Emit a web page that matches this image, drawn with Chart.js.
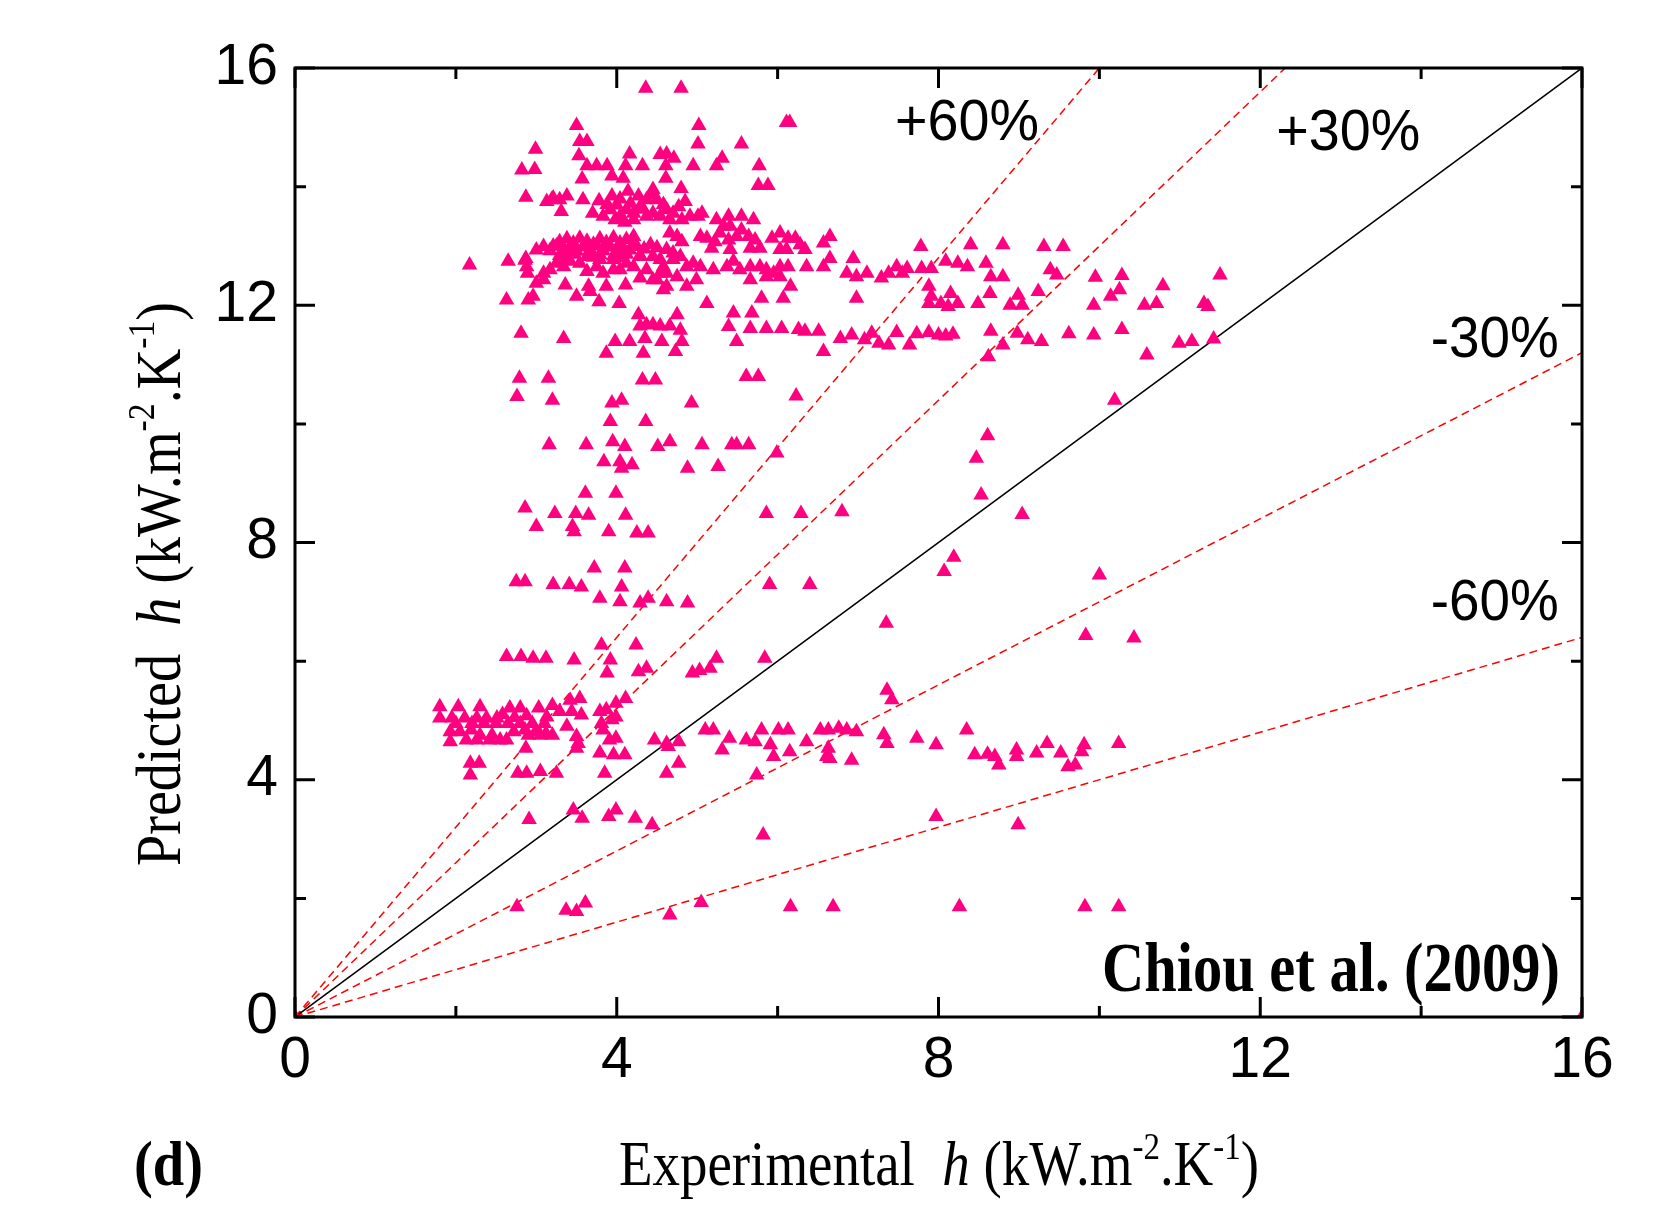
<!DOCTYPE html>
<html>
<head>
<meta charset="utf-8">
<script src="https://cdn.jsdelivr.net/npm/chart.js@4.4.1/dist/chart.umd.min.js"></script>
<style>
html,body{margin:0;padding:0;background:#ffffff;}
#wrap{width:1676px;height:1209px;position:relative;background:#fff;}
</style>
</head>
<body>
<div id="wrap"><canvas id="c" width="1676" height="1209"></canvas></div>
<script>
// ---------------- data (Experimental h, Predicted h) ----------------
const topSparse = [[4.36,15.66],[4.80,15.66],[3.50,15.03],[5.02,15.03],[6.11,15.08],[6.15,15.08],[2.99,14.63],[3.54,14.76],[3.63,14.76],[5.01,14.72],[5.55,14.72],[3.53,14.52],[4.16,14.55],[4.54,14.54],[4.62,14.55],[4.71,14.48],[2.82,14.28],[2.98,14.29],[3.63,14.35],[3.75,14.35],[3.88,14.35],[4.11,14.35],[4.32,14.35],[4.61,14.35],[4.95,14.35],[5.24,14.35],[5.31,14.48],[5.77,14.35],[3.94,14.18],[3.57,14.13],[4.08,14.14],[4.61,14.14],[5.76,14.02],[5.88,14.02],[2.87,13.82]];
const band135 = [[3.13,13.75],[3.21,13.81],[3.29,13.78],[3.38,13.84],[3.31,13.58],[3.58,13.78],[3.78,13.76],[3.94,13.84],[4.04,13.79],[4.14,13.92],[4.27,13.84],[4.37,13.78],[4.45,13.95],[4.50,13.78],[4.80,13.97],[3.83,13.50],[3.92,13.61],[4.00,13.69],[4.04,13.50],[4.12,13.61],[4.21,13.55],[4.29,13.66],[4.37,13.50],[4.45,13.55],[4.54,13.50],[4.21,13.44],[4.62,13.61],[4.70,13.55],[4.77,13.66],[4.85,13.75],[4.81,13.44],[4.91,13.50],[5.06,13.55],[5.01,13.50],[5.24,13.44],[5.39,13.50],[5.55,13.50],[5.70,13.44],[5.33,13.33],[5.41,13.33],[4.66,13.44],[3.98,13.44],[4.10,13.40],[3.19,13.78],[4.17,13.72],[4.33,13.62],[4.58,13.70],[3.88,13.70],[4.42,13.86],[3.70,13.55]];
const band130 = [[3.29,13.07],[3.38,13.12],[3.46,13.05],[3.54,13.13],[3.63,13.08],[3.71,13.03],[3.79,13.12],[3.87,13.06],[3.96,13.14],[4.04,13.05],[4.12,13.11],[4.21,13.04],[3.00,12.93],[3.09,12.99],[3.17,12.92],[3.25,13.00],[3.34,12.94],[3.42,12.99],[3.50,12.91],[3.58,12.98],[3.67,12.93],[3.75,13.00],[3.83,12.92],[3.92,12.98],[4.00,12.90],[4.08,12.97],[4.16,12.93],[4.25,12.99],[4.34,12.95],[4.42,13.02],[4.50,12.97],[4.21,13.16],[4.75,13.16],[4.81,13.07],[3.29,12.84],[3.46,12.86],[3.63,12.82],[3.79,12.85],[3.96,12.83],[4.12,12.86],[4.29,12.84],[3.38,12.80],[3.71,12.81],[4.05,12.80],[5.04,13.16],[5.12,13.13],[5.22,13.07],[5.28,13.22],[5.39,13.10],[5.49,13.16],[5.55,13.27],[5.64,13.16],[5.72,13.10],[5.78,12.96],[5.93,13.13],[6.03,13.22],[6.13,13.13],[6.22,13.13],[6.28,13.02],[6.34,12.94],[5.18,12.96],[5.41,12.94],[5.66,12.96],[6.03,12.94],[6.11,12.94],[4.66,13.22],[4.62,12.94],[4.70,12.88],[6.65,13.16],[6.57,13.05],[3.21,13.00]];
const band127 = [[2.65,12.74],[2.87,12.79],[2.88,12.65],[2.89,12.54],[3.09,12.54],[3.17,12.60],[3.25,12.71],[3.34,12.65],[3.42,12.74],[3.63,12.57],[3.75,12.65],[3.83,12.54],[3.96,12.60],[4.04,12.60],[4.12,12.71],[4.21,12.65],[4.45,12.82],[4.58,12.65],[4.62,12.54],[4.70,12.77],[4.79,12.82],[4.87,12.65],[4.95,12.71],[5.04,12.65],[5.20,12.60],[5.37,12.65],[5.45,12.74],[5.53,12.60],[5.66,12.65],[5.78,12.65],[5.86,12.60],[5.95,12.54],[6.03,12.65],[6.13,12.65],[6.36,12.65],[4.37,12.60],[4.54,12.77],[4.29,12.82],[3.96,12.77],[3.79,12.77],[3.54,12.71],[2.17,12.68],[2.86,12.76]];
const band122 = [[2.63,12.09],[2.90,12.09],[2.96,12.15],[3.00,12.37],[3.09,12.43],[3.36,12.34],[3.50,12.15],[3.65,12.32],[3.67,12.23],[3.78,12.06],[3.87,12.32],[4.03,12.03],[4.11,12.34],[4.29,12.46],[4.45,12.43],[4.58,12.26],[4.62,12.32],[4.75,12.48],[4.87,12.32],[4.99,12.43],[5.12,12.03],[5.66,12.43],[5.86,12.48],[6.03,12.48],[6.16,12.32],[5.80,12.12],[6.07,12.12],[6.98,12.12],[6.86,12.54],[6.94,12.79],[6.98,12.48],[7.11,12.54],[7.29,12.46],[7.38,12.54],[7.48,12.65],[6.65,12.79],[6.57,12.65],[4.50,12.43],[4.54,12.54]];
const upperRight = [[7.78,12.99],[8.40,13.02],[8.80,13.02],[9.31,12.99],[9.55,12.99],[7.61,12.62],[7.79,12.62],[7.91,12.62],[8.09,12.74],[8.24,12.71],[8.36,12.65],[8.59,12.71],[7.55,12.54],[7.88,12.32],[7.91,12.15],[8.03,12.03],[8.15,12.20],[8.24,12.03],[8.12,11.98],[7.88,12.03],[8.49,12.03],[8.64,12.20],[8.65,12.48],[8.80,12.48],[9.39,12.60],[9.47,12.51],[8.89,12.00],[9.04,12.00],[8.99,12.17],[9.24,12.23],[9.95,12.47],[10.28,12.50],[9.93,12.00],[10.14,12.15],[10.25,12.26],[10.56,12.00],[10.71,12.03],[10.79,12.33],[11.30,12.03],[11.35,11.98],[11.50,12.51]];
const band115 = [[7.08,11.42],[7.26,11.36],[7.48,11.54],[7.64,11.33],[7.73,11.52],[7.88,11.54],[8.00,11.50],[8.09,11.48],[8.18,11.51],[8.65,11.56],[8.80,11.33],[8.98,11.53],[9.11,11.42],[9.28,11.39],[9.62,11.52],[9.93,11.50],[10.28,11.59],[10.59,11.16],[10.99,11.36],[11.15,11.39],[11.42,11.43],[8.62,11.13],[6.78,11.44],[6.92,11.50],[7.17,11.53],[7.38,11.33],[4.27,11.84],[4.75,11.84],[4.29,11.65],[4.37,11.67],[4.45,11.67],[4.54,11.65],[4.66,11.65],[4.79,11.58],[5.45,11.87],[5.68,11.87],[5.39,11.64],[5.66,11.61],[5.86,11.61],[6.05,11.61],[6.26,11.59],[6.34,11.56],[6.51,11.56],[5.49,11.39],[3.98,11.39],[4.16,11.39],[4.35,11.44],[4.56,11.39],[4.81,11.39],[3.87,11.19],[4.33,11.19],[4.73,11.22],[6.57,11.22],[2.81,11.53],[3.34,11.44]];
const band105 = [[2.79,10.77],[3.15,10.77],[4.32,10.74],[4.48,10.74],[5.61,10.80],[5.76,10.80],[2.76,10.46],[3.20,10.40],[3.94,10.35],[4.06,10.40],[4.93,10.35],[6.23,10.47],[3.92,10.04],[4.36,10.04],[10.19,10.40]];
const band90 = [[3.16,9.65],[3.62,9.65],[3.95,9.70],[4.10,9.62],[4.51,9.62],[4.66,9.70],[5.06,9.65],[5.43,9.65],[5.49,9.65],[5.64,9.65],[5.99,9.51],[3.84,9.36],[4.04,9.36],[4.19,9.31],[4.06,9.25],[4.88,9.25],[5.26,9.28],[3.61,8.83],[3.99,8.83],[2.86,8.58],[3.23,8.49],[3.49,8.49],[3.65,8.46],[3.45,8.27],[3.47,8.18],[3.00,8.27],[4.11,8.46],[3.90,8.18],[4.25,8.16],[4.39,8.16],[5.86,8.49],[6.29,8.49],[6.80,8.52],[8.61,9.80],[8.47,9.42],[8.53,8.80],[9.04,8.47]];
const band70 = [[8.19,7.75],[8.07,7.51],[10.00,7.45],[7.35,6.64],[9.83,6.43],[10.43,6.39],[3.72,7.57],[4.10,7.57],[2.75,7.34],[2.86,7.34],[3.21,7.29],[3.41,7.29],[3.56,7.25],[4.06,7.25],[3.79,7.06],[4.04,7.00],[4.29,6.98],[4.39,7.06],[4.62,7.00],[4.88,6.98],[5.90,7.29],[6.40,7.29],[2.63,6.08],[2.81,6.08],[2.96,6.05],[3.12,6.05],[3.47,6.02],[3.81,6.27],[4.24,6.27],[3.92,6.02],[3.88,5.80],[4.27,5.82],[4.37,5.88],[4.94,5.80],[5.03,5.84],[5.16,5.88],[5.24,6.05],[5.84,6.05],[7.36,5.51],[7.42,5.35]];
const leftCluster = [[1.80,5.23],[2.03,5.23],[2.30,5.23],[1.80,5.04],[1.95,5.04],[2.11,5.04],[2.26,5.04],[2.38,5.04],[2.51,5.04],[2.67,5.21],[2.80,5.21],[3.03,5.21],[3.13,5.06],[3.29,5.15],[3.42,5.34],[3.54,5.37],[3.44,5.15],[3.56,5.09],[1.93,4.81],[2.05,4.81],[2.19,4.84],[2.13,4.67],[2.26,4.67],[2.42,4.67],[2.55,4.67],[2.63,4.67],[2.72,4.81],[2.86,4.84],[2.99,4.81],[3.12,4.78],[1.93,4.64],[2.00,4.95],[2.20,4.95],[2.35,4.95],[2.50,4.95],[2.65,4.95],[2.80,4.95],[2.95,4.95],[3.10,4.95],[2.30,4.75],[2.45,4.75],[2.90,4.75],[3.05,4.75],[3.20,4.75],[2.58,5.10],[2.73,5.05],[2.88,5.08],[3.20,5.25],[3.79,5.15],[3.87,5.18],[3.99,5.29],[4.11,5.37],[3.81,4.95],[3.94,5.01],[3.99,5.06],[3.38,4.90],[3.50,4.73],[3.52,4.61],[3.50,4.53],[3.83,4.84],[3.91,4.67],[3.99,4.70],[3.79,4.45],[3.96,4.42],[4.10,4.42],[2.87,4.53],[2.18,4.28],[2.29,4.28],[2.18,4.08],[2.77,4.11],[2.88,4.11],[3.05,4.14],[3.25,4.11],[3.85,4.11]];
const band45 = [[4.62,4.11],[4.77,4.28],[4.47,4.67],[4.62,4.61],[4.77,4.64],[4.64,4.56],[5.10,4.84],[5.20,4.84],[5.40,4.70],[5.31,4.50],[5.61,4.67],[5.80,4.84],[5.72,4.64],[5.91,4.59],[6.01,4.84],[6.13,4.84],[5.95,4.39],[6.15,4.47],[6.36,4.64],[6.53,4.84],[6.63,4.84],[6.76,4.87],[6.86,4.84],[6.98,4.81],[6.63,4.53],[6.61,4.39],[6.65,4.36],[6.92,4.33],[7.32,4.76],[7.36,4.61],[5.74,4.08],[7.73,4.70],[7.97,4.59],[8.35,4.84],[8.45,4.42],[8.61,4.43],[8.70,4.39],[8.75,4.25],[8.97,4.50],[8.97,4.39],[9.22,4.45],[9.35,4.61],[9.52,4.45],[9.61,4.22],[9.70,4.25],[9.78,4.47],[9.81,4.59],[10.24,4.61]];
const lowPoints = [[2.76,1.86],[3.37,1.80],[3.50,1.78],[3.61,1.92],[4.66,1.72],[5.05,1.93],[6.16,1.86],[6.69,1.86],[8.26,1.86],[9.82,1.86],[10.24,1.86],[2.91,3.33],[3.46,3.49],[3.57,3.35],[3.90,3.38],[3.99,3.49],[4.23,3.35],[4.44,3.24],[5.82,3.07],[7.97,3.38],[8.99,3.24],[0,0],[16,0]];

// reference lines (end points)
const perfectLine = [[0,0],[16,16]];
const plus60Line  = [[0,0],[10,16]];
const plus30Line  = [[0,0],[12.31,16]];
const minus30Line = [[0,0],[16,11.2]];
const minus60Line = [[0,0],[16,6.4]];

// axes
const axisMin = 0, axisMax = 16, majorStep = 4;
const minorTicks = [2,6,10,14];
const bandLabels = ['+60%','+30%','-30%','-60%'];
const bandLabelAt = [[7.46,14.79],[12.20,14.62],[14.12,11.13],[14.12,6.69]];
// ----------------------------------------------------------------------

const allPoints = [].concat(topSparse, band135, band130, band127, band122, upperRight,
  band115, band105, band90, band70, leftCluster, band45, lowPoints)
  .map(p => ({x:p[0], y:p[1]}));
const toXY = arr => arr.map(p => ({x:p[0], y:p[1]}));

const PINK = '#ff0080';

function fontFor(p, size, fam){
  const s = p.sup ? size*0.6 : size;
  return (p.i ? 'italic ' : '') + (p.b ? 'bold ' : '') + s.toFixed(1) + 'px ' + fam;
}
function richWidth(ctx, parts, size, fam){
  let w = 0;
  for (const p of parts){ ctx.font = fontFor(p, size, fam); w += ctx.measureText(p.t).width; }
  return w;
}
// draws rich text; anchor 'left' or 'right' at (x, baseline y), fitted to targetW
function drawRich(ctx, parts, x, y, size, fam, targetW, anchor){
  const w = richWidth(ctx, parts, size, fam);
  const sx = targetW / w;
  ctx.save();
  ctx.translate(anchor === 'right' ? x - targetW : x, y);
  ctx.scale(sx, 1);
  ctx.textAlign = 'left';
  ctx.textBaseline = 'alphabetic';
  let cx = 0;
  for (const p of parts){
    ctx.font = fontFor(p, size, fam);
    ctx.fillText(p.t, cx, p.sup ? -size*0.40 : 0);
    cx += ctx.measureText(p.t).width;
  }
  ctx.restore();
}

const SERIF = '"Liberation Serif", "Times New Roman", serif';
const SANS = '"Liberation Sans", Arial, sans-serif';

const overlay = {
  id: 'overlay',
  afterDraw(chart){
    const {ctx, chartArea:a, scales:{x, y}} = chart;
    ctx.save();
    ctx.strokeStyle = '#000';
    ctx.lineWidth = 3;
    ctx.lineCap = 'butt';
    ctx.beginPath();
    const major = 20, minor = 11;
    const tickSet = (vals, len) => {
      for (const v of vals){
        const px = x.getPixelForValue(v);
        ctx.moveTo(px, a.bottom); ctx.lineTo(px, a.bottom - len);
        ctx.moveTo(px, a.top);    ctx.lineTo(px, a.top + len);
        const py = y.getPixelForValue(v);
        ctx.moveTo(a.left, py);  ctx.lineTo(a.left + len, py);
        ctx.moveTo(a.right, py); ctx.lineTo(a.right - len, py);
      }
    };
    tickSet(x.ticks.map(t => t.value), major);
    tickSet(minorTicks, minor);
    ctx.stroke();
    ctx.strokeRect(a.left, a.top, a.right - a.left, a.bottom - a.top);

    ctx.fillStyle = '#000';
    // band labels
    const widths = [144, 144, 128, 128];
    bandLabels.forEach((t, i) => {
      drawRich(ctx, [{t}], x.getPixelForValue(bandLabelAt[i][0]), y.getPixelForValue(bandLabelAt[i][1]),
               58, SANS, widths[i], 'left');
    });
    // source label
    drawRich(ctx, [{t:'Chiou et al. (2009)', b:1}], 1560, 991, 70, SERIF, 458, 'right');
    // panel label
    drawRich(ctx, [{t:'(d)', b:1}], 134, 1185, 64, SERIF, 69, 'left');
    // x title
    drawRich(ctx, [{t:'Experimental  '},{t:'h', i:1},{t:' (kW.m'},{t:'-2', sup:1},{t:'.K'},{t:'-1', sup:1},{t:')'}],
             619, 1185, 64, SERIF, 640, 'left');
    // y title
    ctx.save();
    ctx.translate(180, 866);
    ctx.rotate(-Math.PI/2);
    drawRich(ctx, [{t:'Predicted  '},{t:'h', i:1},{t:' (kW.m'},{t:'-2', sup:1},{t:'.K'},{t:'-1', sup:1},{t:')'}],
             0, 0, 64, SERIF, 564, 'left');
    ctx.restore();
    ctx.restore();
  }
};

const lineDs = (data, color, dash, width) => ({
  data: toXY(data), showLine: true, borderColor: color, borderWidth: width,
  borderDash: dash, pointRadius: 0, pointHoverRadius: 0, fill: false, clip: 0
});

new Chart(document.getElementById('c'), {
  type: 'scatter',
  data: {
    datasets: [
      { data: allPoints, pointStyle: 'triangle', pointRadius: 9, pointHoverRadius: 9,
        backgroundColor: PINK, borderColor: PINK, borderWidth: 0, clip: 0 },
      lineDs(perfectLine, '#000000', [], 1.5),
      lineDs(plus60Line, '#ff0000', [8,5], 1.5),
      lineDs(plus30Line, '#ff0000', [8,5], 1.5),
      lineDs(minus30Line, '#ff0000', [8,5], 1.5),
      lineDs(minus60Line, '#ff0000', [8,5], 1.5)
    ]
  },
  options: {
    responsive: false,
    animation: false,
    devicePixelRatio: 1,
    layout: { padding: { left: 0, right: 94, top: 68, bottom: 0 } },
    plugins: { legend: { display: false }, tooltip: { enabled: false } },
    events: [],
    scales: {
      x: {
        type: 'linear', position: 'bottom', min: axisMin, max: axisMax,
        ticks: { stepSize: majorStep, color: '#000', padding: 10,
                 font: { family: SANS, size: 57 } },
        grid: { display: false, drawTicks: false },
        border: { display: false },
        afterFit(s){ s.height = 192; }
      },
      y: {
        type: 'linear', position: 'left', min: axisMin, max: axisMax,
        ticks: { stepSize: majorStep, color: '#000', padding: 17,
                 font: { family: SANS, size: 57 } },
        grid: { display: false, drawTicks: false },
        border: { display: false },
        afterFit(s){ s.width = 295; }
      }
    }
  },
  plugins: [overlay]
});
</script>
</body>
</html>
